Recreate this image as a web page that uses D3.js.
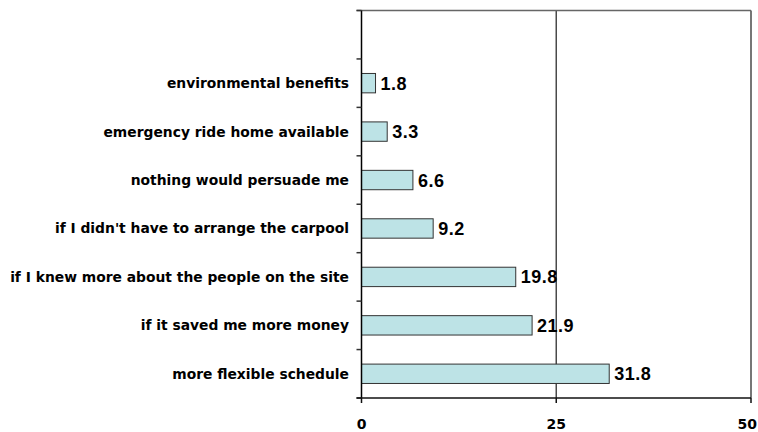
<!DOCTYPE html>
<html>
<head>
<meta charset="utf-8">
<script src="https://cdn.jsdelivr.net/npm/d3@7"></script>
<style>
  html, body { margin: 0; padding: 0; background: #fff; }
  svg { display: block; }
</style>
</head>
<body>
<svg id="chart" width="758" height="432"></svg>
<script>
// ---- data ----
const categories = [
  "environmental benefits",
  "emergency ride home available",
  "nothing would persuade me",
  "if I didn't have to arrange the carpool",
  "if I knew more about the people on the site",
  "if it saved me more money",
  "more flexible schedule"
];
const values = [1.8, 3.3, 6.6, 9.2, 19.8, 21.9, 31.8];
const valueLabels = ["1.8", "3.3", "6.6", "9.2", "19.8", "21.9", "31.8"];
const xTicks = [0, 25, 50];
const xTickLabels = ["0", "25", "50"];

(function () {
// ---- layout ----
const svg = d3.select("#chart");
const W = 758;
const pLeft = 361.5, pRight = 751, pTop = 10.5, pBottom = 398;

const blank = "__blank__";
const domain = [blank].concat(categories);

const x = d3.scaleLinear().domain([0, 50]).range([pLeft, pRight]);
const y = d3.scaleBand().domain(domain).range([pTop, pBottom])
  .paddingInner(0.6).paddingOuter(0.3);
const step = y.step();

// gridlines (vertical)
svg.append("g").selectAll("line").data(xTicks.filter(d => d > 0)).join("line")
  .attr("x1", d => x(d)).attr("x2", d => x(d))
  .attr("y1", pTop).attr("y2", pBottom)
  .attr("stroke", "#4a4a4a").attr("stroke-width", 1.5);

// top line
svg.append("line")
  .attr("x1", pLeft - 5).attr("x2", pRight)
  .attr("y1", pTop).attr("y2", pTop)
  .attr("stroke", "#666").attr("stroke-width", 1.5);

// bars
const data = categories.map((c, i) => ({ c, v: values[i], label: valueLabels[i] }));
svg.append("g").selectAll("rect").data(data).join("rect")
  .attr("x", x(0))
  .attr("y", d => y(d.c))
  .attr("width", d => x(d.v) - x(0))
  .attr("height", y.bandwidth())
  .attr("fill", "#bde3e6")
  .attr("stroke", "#333")
  .attr("stroke-width", 1);

// value labels
svg.append("g").selectAll("text").data(data).join("text")
  .attr("x", d => x(d.v) + 5)
  .attr("y", d => y(d.c) + y.bandwidth() / 2 + 6.5)
  .attr("font-family", "Liberation Sans, Arial, sans-serif")
  .attr("font-weight", "bold")
  .attr("font-size", 18)
  .attr("letter-spacing", 0.5)
  .attr("fill", "#000")
  .text(d => d.label);

// left axis line
svg.append("line")
  .attr("x1", pLeft).attr("x2", pLeft)
  .attr("y1", pTop).attr("y2", pBottom)
  .attr("stroke", "#000").attr("stroke-width", 1.5);

// left axis ticks at band boundaries
const boundaries = d3.range(domain.length + 1).map(i => pTop + i * step);
svg.append("g").selectAll("line").data(boundaries).join("line")
  .attr("x1", pLeft - 5).attr("x2", pLeft)
  .attr("y1", d => d).attr("y2", d => d)
  .attr("stroke", "#333").attr("stroke-width", 1.5);

// category labels
svg.append("g").selectAll("text").data(categories).join("text")
  .attr("x", 349)
  .attr("y", d => y(d) + y.bandwidth() / 2 + 5)
  .attr("text-anchor", "end")
  .attr("font-family", "DejaVu Sans, sans-serif")
  .attr("font-weight", "bold")
  .attr("font-size", 13.85)
  .attr("fill", "#000")
  .text(d => d);

// bottom axis
svg.append("line")
  .attr("x1", pLeft - 5).attr("x2", pRight)
  .attr("y1", pBottom).attr("y2", pBottom)
  .attr("stroke", "#111").attr("stroke-width", 1.5);
svg.append("g").selectAll("line").data(xTicks).join("line")
  .attr("x1", d => x(d)).attr("x2", d => x(d))
  .attr("y1", pBottom).attr("y2", pBottom + 5)
  .attr("stroke", "#111").attr("stroke-width", 1.5);
svg.append("g").selectAll("text").data(xTicks).join("text")
  .attr("x", d => x(d))
  .attr("y", 429)
  .attr("text-anchor", "middle")
  .attr("font-family", "DejaVu Sans, sans-serif")
  .attr("font-weight", "bold")
  .attr("font-size", 14)
  .attr("fill", "#000")
  .text((d, i) => xTickLabels[i])
  .each(function (d) {
    const w = this.getComputedTextLength();
    const cx = Math.min(x(d), W - 1 - w / 2);
    d3.select(this).attr("x", cx);
  });
})();
</script>
</body>
</html>
